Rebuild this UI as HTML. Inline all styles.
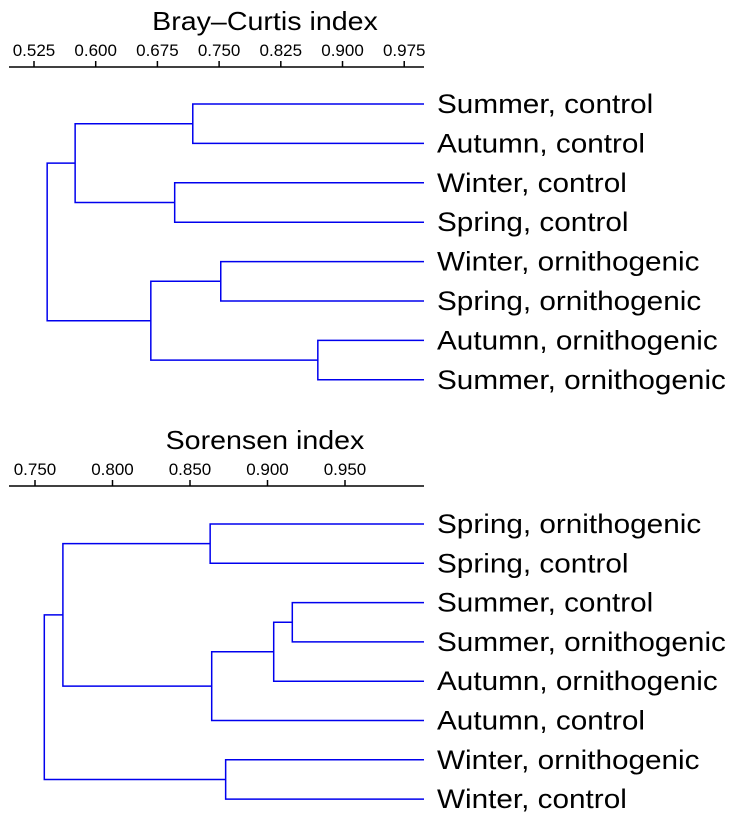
<!DOCTYPE html>
<html><head><meta charset="utf-8"><style>
body{margin:0;background:#fff}
svg{display:block;font-family:"Liberation Sans",sans-serif}
</style></head><body>
<svg id="c" width="735" height="819"></svg>
<script>
// Bray–Curtis dendrogram data
const bcLeaves = ["Summer, control","Autumn, control","Winter, control","Spring, control","Winter, ornithogenic","Spring, ornithogenic","Autumn, ornithogenic","Summer, ornithogenic"];
const bcMergeA = [0, 2, 8, 4, 6, 11, 10];
const bcMergeB = [1, 3, 9, 5, 7, 12, 13];
const bcHeights = [0.718, 0.696, 0.575, 0.752, 0.870, 0.667, 0.541];
const bcTicks = [0.525, 0.600, 0.675, 0.750, 0.825, 0.900, 0.975];
// Sorensen dendrogram data
const soLeaves = ["Spring, ornithogenic","Spring, control","Summer, control","Summer, ornithogenic","Autumn, ornithogenic","Autumn, control","Winter, ornithogenic","Winter, control"];
const soMergeA = [0, 2, 9, 10, 8, 6, 12];
const soMergeB = [1, 3, 4, 5, 11, 7, 13];
const soHeights = [0.863, 0.916, 0.904, 0.864, 0.768, 0.873, 0.756];
const soTicks = [0.750, 0.800, 0.850, 0.900, 0.950];

const NS="http://www.w3.org/2000/svg", svg=document.getElementById('c');
function mk(t,a,p){const e=document.createElementNS(NS,t);for(const k in a)e.setAttribute(k,a[k]);(p||svg).appendChild(e);return e;}
function stretch(el,f){const w=el.getComputedTextLength();el.setAttribute('textLength',w*f);el.setAttribute('lengthAdjust','spacingAndGlyphs');}

function draw(prefix,title,leaves,ma,mb,hs,ticks,axisY,x0,v0,pxPer,leafY0,leafStep){
  const g=mk('g',{});
  
  
  const X=v=>x0+(v-v0)*pxPer;
  const xEnd=424;
  const t=mk('text',{x:265,y:axisY-37,'font-size':26,'text-anchor':'middle',fill:'#000'},g);t.textContent=title;
  
  
  stretch(t,1.1);
  const ax=mk('line',{x1:9,x2:xEnd,y1:axisY,y2:axisY,stroke:'#000','stroke-width':1.5},g);
  
  
  ticks.forEach(v=>{
    const tk=mk('line',{x1:X(v),x2:X(v),y1:axisY,y2:axisY-6,stroke:'#000','stroke-width':1.5},g);
    
    
    const tl=mk('text',{x:X(v),y:axisY-11,'font-size':17,'text-anchor':'middle',fill:'#000'},g);
    tl.textContent=v.toFixed(3);
    
    
  });
  const nx=[],ny=[];
  leaves.forEach((l,i)=>{
    nx.push(xEnd);ny.push(leafY0+i*leafStep);
    const lb=mk('text',{x:437,y:leafY0+i*leafStep+9,'font-size':27,fill:'#000'},g);
    lb.textContent=l;
    
    
    stretch(lb,1.1);
  });
  hs.forEach((h,i)=>{
    const a=ma[i],b=mb[i],x=X(h);
    const p=mk('path',{d:`M${nx[a]},${ny[a]}H${x}V${ny[b]}H${nx[b]}`,fill:'none',stroke:'#0000ee','stroke-width':1.5},g);
    
    
    nx.push(x);ny.push((ny[a]+ny[b])/2);
  });
}
draw('bray-curtis','Bray–Curtis index',bcLeaves,bcMergeA,bcMergeB,bcHeights,bcTicks,67,34,0.525,822.7,104,39.4);
draw('sorensen','Sorensen index',soLeaves,soMergeA,soMergeB,soHeights,soTicks,486,35,0.750,1550,524,39.3);
</script>
</body></html>
